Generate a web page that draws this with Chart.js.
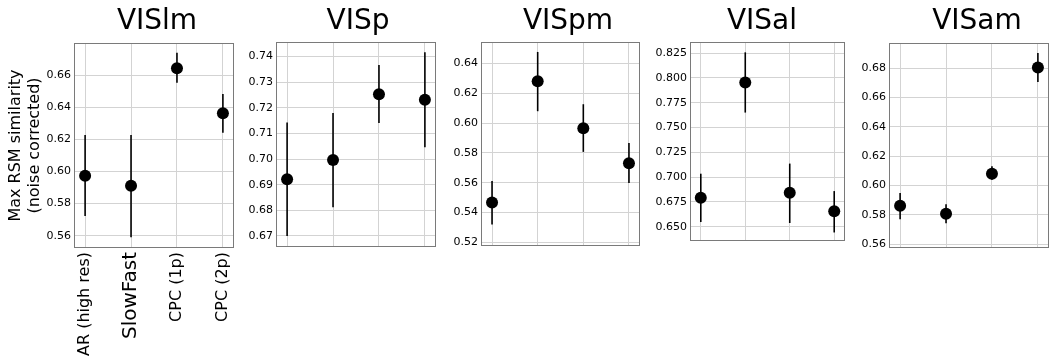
<!DOCTYPE html>
<html>
<head>
<meta charset="utf-8">
<script src="https://cdn.jsdelivr.net/npm/chart.js@4.4.1/dist/chart.umd.min.js"></script>
<style>
  html, body { margin: 0; padding: 0; background: #fff; width: 1052px; height: 363px; overflow: hidden; }
  .panel { position: absolute; top: 0; }
  .title {
    position: absolute; top: 6px; width: 160px; margin-left: -80px;
    text-align: center; font: 28px/28px 'DejaVu Sans', sans-serif; color: #000;
  }
</style>
</head>
<body>
<script>
// models on the x axis (only labelled on the first panel)
const categories = ['AR (high res)', 'SlowFast', 'CPC (1p)', 'CPC (2p)'];
const areaNames = ['VISlm', 'VISp', 'VISpm', 'VISal', 'VISam'];

// mean and error bar ends
const visLmMean = [0.5973, 0.5911, 0.6642, 0.6362];
const visLmLow  = [0.5723, 0.5590, 0.6552, 0.6241];
const visLmHigh = [0.6227, 0.6227, 0.6739, 0.6482];

const visPMean = [0.6921, 0.6996, 0.7252, 0.7231];
const visPLow  = [0.6700, 0.6812, 0.7140, 0.7046];
const visPHigh = [0.7142, 0.7179, 0.7366, 0.7416];

const visPmMean = [0.5467, 0.6281, 0.5966, 0.5730];
const visPmLow  = [0.5320, 0.6080, 0.5807, 0.5598];
const visPmHigh = [0.5611, 0.6478, 0.6127, 0.5866];

const visAlMean = [0.6791, 0.7953, 0.6842, 0.6655];
const visAlLow  = [0.6547, 0.7650, 0.6537, 0.6442];
const visAlHigh = [0.7034, 0.8257, 0.7136, 0.6859];

const visAmMean = [0.5862, 0.5807, 0.6080, 0.6804];
const visAmLow  = [0.5770, 0.5742, 0.6039, 0.6705];
const visAmHigh = [0.5948, 0.5871, 0.6131, 0.6902];

// y tick labels per panel
const visLmTicks = [0.56, 0.58, 0.60, 0.62, 0.64, 0.66];
const visPTicks  = [0.67, 0.68, 0.69, 0.70, 0.71, 0.72, 0.73, 0.74];
const visPmTicks = [0.52, 0.54, 0.56, 0.58, 0.60, 0.62, 0.64];
const visAlTicks = [0.650, 0.675, 0.700, 0.725, 0.750, 0.775, 0.800, 0.825];
const visAmTicks = [0.56, 0.58, 0.60, 0.62, 0.64, 0.66, 0.68];

// axis limits per panel
const visLmRange = [0.553, 0.6793];
const visPRange  = [0.6661, 0.7452];
const visPmRange = [0.5182, 0.6538];
const visAlRange = [0.6366, 0.8351];
const visAmRange = [0.558, 0.6964];

const FONT = 'DejaVu Sans';
const H = 363;

// draw the box round the plot, like matplotlib spines
const frame = {
  id: 'frame',
  beforeDatasetsDraw(chart) {
    const a = chart.chartArea;
    const c = chart.ctx;
    c.save();
    c.strokeStyle = '#7a7a7a';
    c.lineWidth = 1;
    c.strokeRect(Math.round(a.left) - 0.5, Math.round(a.top) - 0.5,
      Math.round(a.right - a.left) + 1, Math.round(a.bottom - a.top) + 1);
    c.restore();
  }
};

function makePanel(i, mean, low, high, ticks, range, box, titleX) {
  const [left, right, top, bottom] = box;
  const yw = i === 0 ? 75 : 48;
  const width = right - left + yw + 2;

  const div = document.createElement('div');
  div.className = 'panel';
  div.style.left = (left - yw) + 'px';
  div.style.width = width + 'px';
  const cv = document.createElement('canvas');
  cv.width = width;
  cv.height = H;
  div.appendChild(cv);
  document.body.appendChild(div);

  const t = document.createElement('div');
  t.className = 'title';
  t.style.left = titleX + 'px';
  t.textContent = areaNames[i];
  document.body.appendChild(t);

  const datasets = [{
    data: mean.map((m, k) => ({ x: k, y: m })),
    pointRadius: 6,
    pointHoverRadius: 6,
    pointBackgroundColor: '#000',
    pointBorderWidth: 0,
    showLine: false
  }];
  // error bars: one small two-point line per model
  mean.forEach((m, k) => {
    datasets.push({
      data: [{ x: k, y: low[k] }, { x: k, y: high[k] }],
      showLine: true,
      borderColor: '#000',
      borderWidth: 1.6,
      pointRadius: 0
    });
  });

  const decimals = i === 3 ? 3 : 2;

  new Chart(cv, {
    type: 'scatter',
    data: { datasets },
    plugins: [frame],
    options: {
      responsive: false,
      animation: false,
      layout: { padding: { left: 0, right: 2, top: top, bottom: 0 } },
      plugins: {
        legend: { display: false },
        tooltip: { enabled: false }
      },
      scales: {
        x: {
          type: 'linear',
          min: -0.22,
          max: 3.22,
          afterBuildTicks: s => { s.ticks = categories.map((c, k) => ({ value: k })); },
          afterFit: s => {
            s.height = H - bottom;
            s.paddingLeft = 0;
            s.paddingRight = 0;
          },
          border: { display: false },
          grid: { color: '#d3d3d3', lineWidth: 1, drawTicks: false },
          ticks: {
            display: i === 0,
            autoSkip: false,
            minRotation: 90,
            maxRotation: 90,
            padding: 5,
            color: '#000',
            font: c => ({ family: FONT, size: c.index === 1 ? 20 : 16 }),
            callback: v => categories[v]
          }
        },
        y: {
          min: range[0],
          max: range[1],
          afterBuildTicks: s => { s.ticks = ticks.map(v => ({ value: v })); },
          afterFit: s => { s.width = yw; },
          border: { display: false },
          grid: { color: '#d3d3d3', lineWidth: 1, drawTicks: false },
          ticks: {
            padding: 4,
            color: '#000',
            font: { family: FONT, size: 11 },
            callback: v => v.toFixed(decimals)
          },
          title: {
            display: i === 0,
            text: ['Max RSM similarity', '(noise corrected)'],
            color: '#000',
            font: { family: FONT, size: 16 },
            padding: { top: 6, bottom: 0 }
          }
        }
      }
    }
  });
}

// [plotLeft, plotRight, plotTop, plotBottom] in pixels, then title centre
makePanel(0, visLmMean, visLmLow, visLmHigh, visLmTicks, visLmRange, [75, 237, 44, 247], 157);
makePanel(1, visPMean, visPLow, visPHigh, visPTicks, visPRange, [277, 439, 43, 246], 358);
makePanel(2, visPmMean, visPmLow, visPmHigh, visPmTicks, visPmRange, [482, 643, 43, 245], 568);
makePanel(3, visAlMean, visAlLow, visAlHigh, visAlTicks, visAlRange, [691, 848, 43, 240], 762);
makePanel(4, visAmMean, visAmLow, visAmHigh, visAmTicks, visAmRange, [890, 1052, 44, 247], 977);
</script>
</body>
</html>
